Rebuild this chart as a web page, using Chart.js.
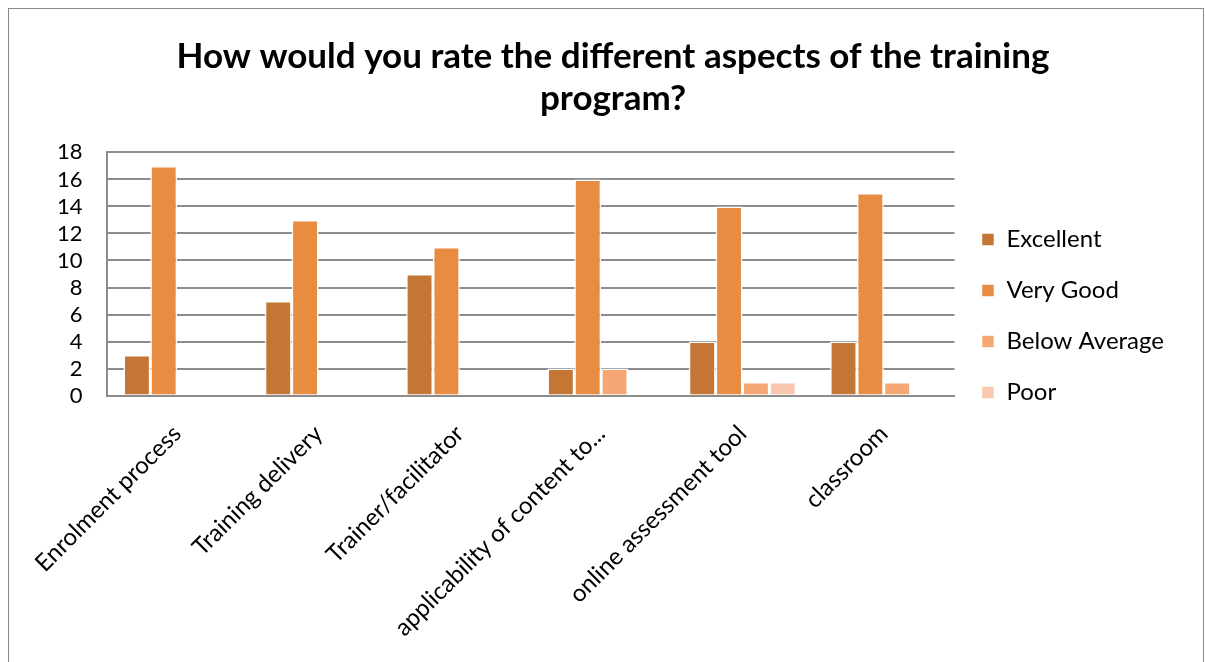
<!DOCTYPE html>
<html>
<head>
<meta charset="utf-8">
<script src="https://cdn.jsdelivr.net/npm/chart.js@4"></script>
<style>
    html, body { margin: 0; padding: 0; background: #fff; overflow: hidden; }
    #box {
        position: absolute; left: 8px; top: 8px;
        width: 1194px; height: 680px;
        border: 1px solid #8a8a8a;
    }
    #wrap { position: absolute; left: 0; top: 0; width: 1194px; height: 653px; }
</style>
</head>
<body>
<div id="box"><div id="wrap"><canvas id="ratingChart"></canvas></div></div>
<script>
// categories and values
const categories = ['Enrolment process', 'Training delivery', 'Trainer/facilitator',
    'applicability of content to...', 'online assessment tool', 'classroom'];
const excellent = [3, 7, 9, 2, 4, 4];
const veryGood = [17, 13, 11, 16, 14, 15];
const belowAverage = [0, 0, 0, 2, 1, 1];
const poor = [0, 0, 0, 0, 1, 0];
const yTicks = [0, 2, 4, 6, 8, 10, 12, 14, 16, 18];

const fontFamily = "Lato, 'Open Sans', sans-serif";

function series(label, data, color) {
    return {
        label: label,
        data: data,
        backgroundColor: color,
        borderColor: '#ffffff',
        borderWidth: 1.5,
        borderSkipped: 'bottom',
        categoryPercentage: 0.76,
        barPercentage: 1.0
    };
}

// Excel puts the legend a bit higher and leaves more room right of it
const legendTweak = {
    id: 'legendTweak',
    beforeLayout(chart) {
        const lg = chart.legend;
        if (lg && !lg._widened) {
            const fit = lg.fit;
            lg.fit = function() {
                fit.call(this);
                this.width += 19;
            };
            lg._widened = true;
        }
    },
    afterLayout(chart) {
        const lg = chart.legend;
        lg.bottom -= 59;
        lg.height -= 59;
    }
};

const ctx = document.getElementById('ratingChart').getContext('2d');
const ratingChart = new Chart(ctx, {
    type: 'bar',
    data: {
        labels: categories,
        datasets: [
            series('Excellent', excellent, '#C47634'),
            series('Very Good', veryGood, '#E88C42'),
            series('Below Average', belowAverage, '#F6A874'),
            series('Poor', poor, '#F9C8AF')
        ]
    },
    options: {
        responsive: true,
        maintainAspectRatio: false,
        animation: false,
        layout: { padding: { left: 24, right: 10, top: 16, bottom: -4 } },
        scales: {
            y: {
                min: 0,
                max: 18,
                afterBuildTicks: function(axis) {
                    axis.ticks = yTicks.map(v => ({ value: v }));
                },
                grid: { color: '#8c8c8c', lineWidth: 2, drawTicks: false },
                border: { display: true, color: '#8c8c8c', width: 2 },
                ticks: {
                    color: '#000',
                    autoSkip: false,
                    padding: 24,
                    font: { family: fontFamily, size: 22 }
                }
            },
            x: {
                // rotated labels may hang past the left edge, as in Excel
                afterFit: function(scale) {
                    scale.paddingLeft = 0;
                    scale.paddingRight = 0;
                },
                grid: { display: false, drawTicks: false },
                border: { display: true, color: '#8c8c8c', width: 2 },
                ticks: {
                    color: '#000',
                    minRotation: 45,
                    maxRotation: 45,
                    autoSkip: false,
                    padding: 24,
                    font: { family: fontFamily, size: 24 }
                }
            }
        },
        plugins: {
            title: {
                display: true,
                text: ['How would you rate the different aspects of the training', 'program?'],
                color: '#000',
                font: { family: fontFamily, size: 35, weight: 'bold', lineHeight: 1.22 },
                padding: { top: 10, bottom: 32 }
            },
            legend: {
                position: 'right',
                labels: {
                    color: '#000',
                    boxWidth: 13,
                    boxHeight: 13,
                    padding: 27,
                    font: { family: fontFamily, size: 24 }
                }
            },
            tooltip: { enabled: false }
        }
    },
    plugins: [legendTweak]
});
</script>
</body>
</html>
